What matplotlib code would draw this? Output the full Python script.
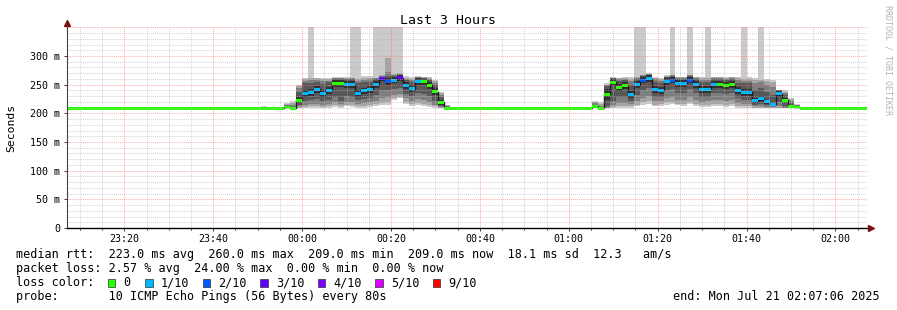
import numpy as np
import matplotlib
matplotlib.use("Agg")
import matplotlib.pyplot as plt
from matplotlib.patches import Rectangle
from matplotlib.ticker import FixedLocator, FuncFormatter

MONO = "DejaVu Sans Mono"
plt.rcParams['font.family'] = [MONO, 'DejaVu Sans']

# ---------------- data ----------------
title = "Last 3 Hours"
y_label = "Seconds"
view_start = "23:07:06"
view_end = "02:07:06"
grid_start = "23:06:40"
step_seconds = 80
baseline_ms = 209

# period 1 (one row of 10 ping times per 80 s step)
seg1_start = "23:50:40"
seg1_median = [209, 209, 209, 209, 211, 209, 223, 235, 237, 242, 235, 240, 252, 252, 251, 250,
               235, 239, 242, 250, 260, 255, 258, 262, 248, 243, 256, 255, 249, 238, 219, 209]
seg1_loss = [0, 0, 0, 0, 0, 0, 0, 1, 1, 1, 1, 1, 0, 0, 1, 1,
             1, 1, 1, 1, 3, 2, 1, 3, 1, 1, 1, 0, 0, 0, 0, 0]
seg1_pings = [
    [209, 209, 209, 209, 209, 209, 209, 209, 209, 213],
    [209, 209, 209, 209, 209, 209, 209, 209, 209, 209],
    [209, 209, 209, 209, 209, 209, 209, 209, 209, 209],
    [209, 209, 209, 209, 209, 209, 209, 209, 209, 209],
    [209, 209, 209, 210, 210, 212, 213, 215, 217, 218],
    [208, 208, 208, 208, 209, 209, 211, 214, 218, 222],
    [209, 210, 212, 215, 218, 228, 238, 244, 248, 250],
    [209, 211, 215, 222, 229, 241, 252, 257, 260, 262],
    [210, 212, 216, 223, 231, 243, 253, 258, 261, 350],
    [209, 212, 217, 225, 236, 248, 255, 258, 261, 262],
    [209, 211, 215, 222, 229, 241, 251, 256, 259, 261],
    [210, 213, 217, 224, 234, 246, 254, 257, 260, 262],
    [211, 214, 219, 228, 246, 258, 260, 261, 262, 264],
    [210, 212, 216, 222, 246, 258, 260, 261, 262, 264],
    [212, 215, 220, 230, 245, 257, 259, 260, 261, 263],
    [211, 214, 219, 228, 244, 256, 259, 261, 262, 350],
    [210, 213, 217, 223, 229, 241, 252, 257, 260, 350],
    [210, 213, 218, 225, 233, 245, 254, 258, 261, 265],
    [211, 214, 219, 227, 236, 248, 255, 259, 261, 265],
    [212, 216, 222, 232, 244, 256, 259, 261, 262, 350],
    [214, 218, 226, 240, 256, 263, 264, 265, 266, 350],
    [215, 220, 228, 240, 249, 261, 265, 272, 296, 350],
    [224, 227, 232, 242, 253, 263, 265, 266, 268, 350],
    [226, 229, 234, 245, 257, 266, 267, 268, 270, 350],
    [216, 220, 226, 234, 242, 254, 258, 260, 262, 265],
    [212, 216, 222, 230, 237, 249, 255, 258, 260, 263],
    [214, 218, 225, 236, 250, 261, 262, 263, 264, 265],
    [212, 216, 223, 234, 249, 260, 261, 262, 263, 264],
    [211, 214, 220, 230, 243, 255, 258, 260, 261, 263],
    [210, 212, 215, 221, 232, 244, 250, 253, 256, 258],
    [209, 210, 211, 213, 215, 223, 228, 232, 236, 238],
    [209, 209, 209, 209, 209, 210, 211, 212, 214, 215],
]

# period 2
seg2_start = "01:05:20"
seg2_median = [212, 209, 233, 254, 245, 248, 233, 250, 258, 260, 242, 240, 256, 258, 252, 252,
               258, 250, 241, 242, 250, 250, 249, 250, 240, 237, 237, 222, 225, 220, 216, 234,
               223, 212, 211]
seg2_loss = [0, 0, 0, 0, 0, 0, 1, 1, 2, 1, 1, 1, 1, 2, 1, 1,
             2, 1, 1, 1, 1, 0, 0, 0, 1, 1, 1, 1, 1, 1, 1, 1,
             0, 0, 0]
seg2_pings = [
    [209, 209, 209, 210, 211, 213, 215, 218, 220, 222],
    [208, 208, 208, 209, 209, 209, 210, 212, 216, 220],
    [209, 209, 210, 212, 224, 242, 247, 249, 250, 252],
    [209, 211, 214, 222, 248, 260, 261, 262, 262, 263],
    [210, 213, 218, 228, 239, 251, 256, 259, 261, 262],
    [210, 213, 218, 228, 242, 254, 258, 260, 261, 263],
    [210, 212, 216, 222, 227, 239, 250, 256, 260, 263],
    [212, 215, 221, 232, 244, 256, 259, 261, 263, 350],
    [214, 219, 227, 240, 252, 264, 265, 266, 267, 350],
    [216, 221, 230, 244, 254, 266, 267, 268, 269, 270],
    [212, 215, 221, 228, 236, 248, 255, 259, 261, 263],
    [213, 216, 222, 229, 234, 246, 253, 257, 260, 262],
    [215, 219, 227, 240, 250, 262, 263, 264, 265, 266],
    [216, 220, 229, 242, 252, 264, 265, 266, 267, 350],
    [214, 217, 224, 236, 246, 258, 260, 262, 263, 264],
    [213, 217, 224, 236, 246, 258, 260, 262, 263, 264],
    [216, 220, 229, 242, 252, 264, 265, 266, 267, 350],
    [213, 217, 224, 236, 244, 256, 259, 261, 263, 264],
    [211, 214, 220, 228, 235, 247, 254, 258, 261, 263],
    [211, 214, 221, 229, 236, 248, 255, 258, 261, 350],
    [212, 216, 223, 235, 244, 256, 259, 261, 263, 264],
    [212, 216, 223, 235, 244, 256, 259, 261, 263, 264],
    [211, 215, 222, 233, 243, 255, 258, 260, 262, 263],
    [212, 216, 223, 235, 244, 256, 259, 261, 263, 264],
    [210, 213, 218, 226, 234, 246, 253, 258, 261, 263],
    [210, 212, 217, 224, 231, 243, 252, 257, 260, 350],
    [210, 212, 217, 224, 231, 243, 252, 257, 260, 263],
    [209, 210, 212, 215, 218, 226, 240, 252, 258, 262],
    [209, 210, 213, 217, 220, 230, 244, 254, 258, 350],
    [209, 210, 211, 214, 216, 224, 238, 250, 256, 260],
    [209, 210, 211, 213, 214, 218, 232, 246, 254, 258],
    [209, 210, 213, 220, 229, 239, 240, 240, 241, 241],
    [209, 209, 210, 213, 219, 227, 232, 236, 238, 240],
    [209, 209, 209, 209, 210, 214, 218, 222, 225, 226],
    [209, 209, 209, 209, 210, 212, 213, 214, 215, 216],
]

loss_levels = [0, 1, 2, 3, 4, 5, 9]
loss_labels = ["0", "1/10", "2/10", "3/10", "4/10", "5/10", "9/10"]
loss_colors = ["#26ff00", "#00b8ff", "#0059ff", "#5e00ff", "#7e00ff", "#dd00ff", "#ff0000"]
smoke_colors = ["#cacaca", "#a4a4a4", "#7e7e7e", "#585858", "#323232"]

stats_line1 = "median rtt:  223.0 ms avg  260.0 ms max  209.0 ms min  209.0 ms now  18.1 ms sd  12.3   am/s"
stats_line2 = "packet loss: 2.57 % avg  24.00 % max  0.00 % min  0.00 % now"
loss_title = "loss color:"
probe_line = "probe:       10 ICMP Echo Pings (56 Bytes) every 80s"
end_line = "end: Mon Jul 21 02:07:06 2025"
credit = "RRDTOOL / TOBI OETIKER"


def hm(s):
    h, m, sec = map(int, s.split(":"))
    v = h * 60 + m + sec / 60.0
    if h < 12:
        v += 1440
    return v


# ---------------- build series ----------------
step_min = step_seconds / 60.0
g0 = hm(grid_start)
n = int(np.ceil((hm(view_end) - g0) / step_min)) + 1
edges = g0 + np.arange(n + 1) * step_min
med = np.full(n, float(baseline_ms))
loss = np.zeros(n, dtype=int)
pings = np.full((n, 10), float(baseline_ms))
for start, m, l, p in [(seg1_start, seg1_median, seg1_loss, seg1_pings),
                       (seg2_start, seg2_median, seg2_loss, seg2_pings)]:
    i0 = int(round((hm(start) - g0) / step_min))
    k = len(m)
    med[i0:i0 + k] = m
    loss[i0:i0 + k] = l
    pings[i0:i0 + k] = np.sort(np.array(p, dtype=float), axis=1)

# ---------------- figure ----------------
W, H = 897, 310
fig = plt.figure(figsize=(W / 100, H / 100), dpi=100)
fig.patch.set_facecolor("white")
L_px, R_px, B_px, T_px = 67, 867, 228, 27.3
ax = fig.add_axes([L_px / W, 1 - B_px / H, (R_px - L_px) / W, (B_px - T_px) / H])
ax.set_facecolor("white")
x0, x1 = hm(view_start), hm(view_end)
ax.set_xlim(x0, x1)
ax.set_ylim(0, 350)

# smoke
for b in range(5):
    lo = np.append(pings[:, b], pings[-1, b])
    hi = np.append(pings[:, 9 - b], pings[-1, 9 - b])
    ax.fill_between(edges, lo, hi, step="post", color=smoke_colors[b], lw=0, zorder=1)

# median connector line
ax.step(edges, np.append(med, med[-1]), where="post", color="#1a1a1a", lw=1.0, zorder=2)

# median band coloured by loss
half = 2.6
cols = []
for Lv in loss:
    idx = max(i for i, lv in enumerate(loss_levels) if lv <= Lv)
    cols.append(loss_colors[idx])
ax.bar(edges[:-1], 2 * half, bottom=med - half, width=step_min, align="edge",
       color=cols, lw=0, antialiased=False, zorder=3)

# grid (drawn on top like rrdtool)
dot = (0, (1, 1))
for v in range(10, 351, 10):
    if v % 50:
        ax.axhline(v, color="#b8b8b8", lw=0.7, ls=dot, alpha=0.6, zorder=4)
for v in range(50, 351, 50):
    ax.axhline(v, color="#ff7070", lw=0.7, ls=dot, alpha=0.6, zorder=4)
t = np.ceil(x0 / 5) * 5
minor_x, major_x = [], []
while t <= x1:
    (major_x if int(round(t)) % 20 == 0 else minor_x).append(t)
    t += 5
for v in minor_x:
    ax.axvline(v, color="#b8b8b8", lw=0.7, ls=dot, alpha=0.6, zorder=4)
for v in major_x:
    ax.axvline(v, color="#ff7070", lw=0.7, ls=dot, alpha=0.6, zorder=4)

# axes / ticks
for s in ["top", "right"]:
    ax.spines[s].set_visible(False)
ax.spines["left"].set_color("#404040")
ax.spines["bottom"].set_color("#000000")
ax.spines["left"].set_linewidth(0.8)
ax.spines["bottom"].set_linewidth(1.0)
ax.spines["left"].set_zorder(5)
ax.spines["bottom"].set_zorder(5)

ax.xaxis.set_major_locator(FixedLocator(major_x))
ax.xaxis.set_minor_locator(FixedLocator(minor_x))
ax.xaxis.set_major_formatter(FuncFormatter(
    lambda v, p: "%02d:%02d" % ((int(round(v)) // 60) % 24, int(round(v)) % 60)))
ax.yaxis.set_major_locator(FixedLocator(list(range(0, 301, 50))))
ax.yaxis.set_major_formatter(FuncFormatter(lambda v, p: "0" if v == 0 else "%d m" % v))
ax.tick_params(axis="x", which="major", length=2.5, width=0.7, color="#404040",
               pad=1.6, labelsize=7.2)
ax.tick_params(axis="x", which="minor", length=1.5, width=0.7, color="#404040")
ax.tick_params(axis="y", which="major", length=2.2, width=0.7, color="#404040",
               pad=2.6, labelsize=7.2)

# arrows
ax.plot([0], [1.019], marker="^", ms=4.5, color="#7a1010", transform=ax.transAxes,
        clip_on=False, zorder=6)
ax.plot([1.0045], [0], marker=">", ms=4.5, color="#7a1010", transform=ax.transAxes,
        clip_on=False, zorder=6)

# texts
fig.text(448 / W, 1 - 24.5 / H, title, ha="center", va="baseline", fontsize=9.5)
fig.text(11 / W, 1 - 127.5 / H, y_label, rotation=90, ha="center", va="center", fontsize=8.2)
fig.text(888 / W, 1 - 60 / H, credit, rotation=-90, ha="center", va="center",
         fontsize=6, color="#b4b4b4")

fs = 8.5
fig.text(16 / W, 1 - 258 / H, stats_line1, ha="left", va="baseline", fontsize=fs)
fig.text(16 / W, 1 - 272 / H, stats_line2, ha="left", va="baseline", fontsize=fs)
fig.text(16 / W, 1 - 286 / H, loss_title, ha="left", va="baseline", fontsize=fs)
fig.text(16 / W, 1 - 300 / H, probe_line, ha="left", va="baseline", fontsize=fs)
fig.text(880 / W, 1 - 300 / H, end_line, ha="right", va="baseline", fontsize=fs)

label_x = [123] + [160.7 + 57.5 * i for i in range(len(loss_labels) - 1)]
for lx, lab, c in zip(label_x, loss_labels, loss_colors):
    sq = 7.5
    fig.patches.append(Rectangle(((lx - 15.5) / W, 1 - 286.5 / H), sq / W, sq / H,
                                 transform=fig.transFigure, facecolor=c,
                                 edgecolor="#303030", lw=0.5))
    fig.text(lx / W, 1 - 286 / H, lab, ha="left", va="baseline", fontsize=fs)

fig.savefig("out.png", dpi=100, facecolor="white")
